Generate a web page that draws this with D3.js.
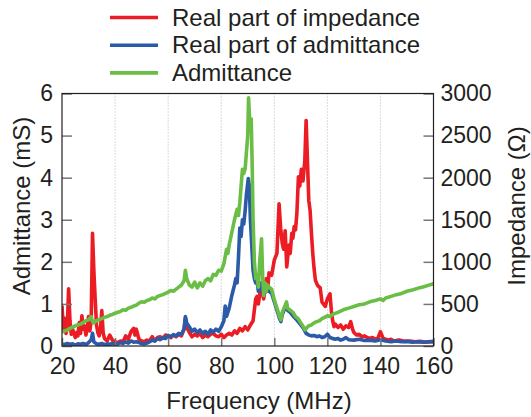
<!DOCTYPE html>
<html lang="en">
<head>
  <meta charset="UTF-8">
  <title>Impedance / Admittance</title>
  <script src="https://d3js.org/d3.v7.min.js"></script>
  <style>
    body { margin: 0; background: #fff; }
    text { font-family: "Liberation Sans", Arial, Helvetica, sans-serif; fill: #231f20; }
  </style>
</head>
<body>
  <div id="wrapper"></div>
  <script>
    // [frequency MHz, value]
    // real part of impedance (ohm) -> right axis
    const realImpedance = [
      [20, 480], [20.5, 200], [21, 330], [21.5, 150], [22, 250], [22.5, 680], [23, 300], [23.5, 140],
      [24, 200], [25, 100], [25.5, 160], [26, 120], [26.5, 280], [27, 150], [27.5, 360], [28, 200],
      [28.5, 240], [29, 130], [29.5, 200], [30, 350], [30.5, 180], [31, 300], [31.5, 1340], [32, 900],
      [32.5, 560], [33, 250], [33.5, 160], [34, 120], [34.5, 200], [35, 420], [35.5, 160], [36, 90],
      [37, 60], [38, 130], [39, 70], [40, 50], [41, 40], [42, 60], [43, 50], [44, 120], [45, 80],
      [46, 170], [47, 210], [47.5, 130], [48, 200], [49, 80], [50, 60], [51, 50], [52, 70], [53, 60],
      [54, 110], [55, 60], [56, 100], [57, 110], [58, 90], [59, 130], [60, 120], [61, 100], [62, 130],
      [63, 110], [64, 140], [65, 120], [66, 200], [66.5, 330], [67, 220], [68, 160], [69, 110],
      [70, 140], [71, 120], [72, 150], [73, 100], [74, 130], [75, 110], [76, 140], [77, 150], [78, 120],
      [79, 110], [80, 140], [81, 100], [82, 130], [83, 150], [84, 130], [85, 180], [86, 150], [87, 210],
      [88, 180], [89, 230], [90, 190], [91, 250], [92, 300], [93, 560], [93.5, 590], [94, 500],
      [95, 720], [96, 560], [97, 800], [97.5, 650], [98, 870], [99, 840], [100, 1020], [101, 1100],
      [101.8, 1690], [102.4, 1400], [103, 1220], [103.5, 1150], [104.1, 1370], [104.7, 940],
      [105.5, 1200], [106, 1100], [106.6, 1340], [107, 1280], [107.5, 1420], [108, 1380], [108.5, 1570],
      [109.1, 2010], [109.6, 1900], [110.2, 2100], [110.8, 1960], [111.5, 2200], [112, 2680],
      [112.5, 2200], [113, 1730], [113.5, 1610], [114, 1340], [114.5, 1100], [115, 920], [115.5, 780],
      [116.3, 720], [117.3, 690], [118, 520], [119.2, 470], [120, 560], [121, 620], [121.5, 420],
      [122, 300], [122.5, 230], [123, 260], [124, 220], [125, 250], [126, 200], [127, 240], [128, 220],
      [128.8, 290], [129.5, 200], [130, 160], [131, 130], [132, 140], [133, 110], [134, 120], [135, 100],
      [136, 90], [137, 100], [138, 80], [139, 90], [140, 170], [141, 90], [142, 80], [143, 70], [144, 80],
      [145, 60], [147, 70], [149, 55], [151, 60], [153, 50], [155, 55], [157, 45], [160, 50]
    ]

    // real part of admittance (mS) -> left axis
    const realAdmittance = [
      [20, 0.05], [21, 0.03], [22, 0.06], [23, 0.04], [24, 0.05], [25, 0.02], [26, 0.05], [27, 0.04],
      [28, 0.06], [29, 0.03], [30, 0.08], [31, 0.15], [31.5, 0.30], [32, 0.10], [33, 0.05], [34, 0.04],
      [35, 0.06], [36, 0.03], [37, 0.05], [38, 0.04], [39, 0.06], [40, 0.03], [41, 0.05], [42, 0.08],
      [43, 0.06], [44, 0.10], [45, 0.07], [46, 0.12], [47, 0.09], [48, 0.10], [49, 0.08], [50, 0.06],
      [51, 0.05], [52, 0.07], [53, 0.10], [54, 0.14], [55, 0.12], [56, 0.18], [57, 0.15], [58, 0.20],
      [59, 0.18], [60, 0.25], [61, 0.22], [62, 0.27], [63, 0.24], [64, 0.30], [65, 0.28], [66, 0.40],
      [66.5, 0.70], [67, 0.55], [68, 0.45], [69, 0.35], [70, 0.40], [71, 0.32], [72, 0.38], [73, 0.30],
      [74, 0.35], [75, 0.28], [76, 0.38], [77, 0.33], [78, 0.40], [79, 0.35], [80, 0.45], [81, 0.60],
      [81.5, 0.95], [82, 0.70], [83, 0.90], [84, 1.20], [85, 1.45], [85.5, 1.60], [86, 1.50],
      [86.5, 2.10], [87, 2.80], [87.5, 2.60], [88, 3.00], [88.5, 2.90], [89, 3.20], [89.5, 3.60],
      [90.2, 3.98], [90.6, 3.80], [91, 3.00], [91.5, 2.40], [92, 1.80], [92.5, 1.60], [93, 1.50],
      [93.5, 1.55], [94, 1.30], [95, 1.50], [96, 1.20], [97, 1.35], [98, 1.30], [99, 1.25], [100, 1.05],
      [101, 0.85], [102, 0.65], [102.5, 0.58], [103, 0.75], [104, 0.90], [104.6, 0.98], [105, 0.85],
      [106, 0.80], [107, 0.72], [108, 0.65], [109, 0.58], [110, 0.50], [111, 0.42], [112, 0.30],
      [113, 0.26], [114, 0.24], [115, 0.25], [116, 0.22], [117, 0.24], [118, 0.20], [119, 0.22],
      [120, 0.28], [121, 0.20], [122, 0.18], [123, 0.16], [124, 0.18], [125, 0.14], [126, 0.16],
      [127, 0.20], [128, 0.15], [130, 0.14], [132, 0.16], [134, 0.13], [136, 0.14], [138, 0.12],
      [140, 0.15], [142, 0.12], [144, 0.10], [146, 0.12], [148, 0.10], [150, 0.11], [152, 0.09],
      [154, 0.10], [156, 0.09], [158, 0.10], [160, 0.11]
    ]

    // admittance magnitude (mS) -> left axis
    const admittance = [
      [20, 0.33], [21, 0.36], [22, 0.38], [23, 0.42], [24, 0.45], [25, 0.48], [26, 0.50], [27, 0.52],
      [28, 0.56], [29, 0.60], [30, 0.62], [31, 0.70], [31.5, 0.58], [32, 0.55], [33, 0.60], [34, 0.63],
      [35, 0.65], [36, 0.68], [37, 0.70], [38, 0.73], [39, 0.75], [40, 0.78], [41, 0.80], [42, 0.82],
      [43, 0.86], [44, 0.85], [45, 0.90], [46, 0.92], [47, 0.95], [48, 0.97], [49, 1.02], [50, 1.05],
      [51, 1.04], [52, 1.08], [53, 1.10], [54, 1.14], [55, 1.12], [56, 1.18], [57, 1.20], [58, 1.22],
      [59, 1.25], [60, 1.28], [61, 1.32], [62, 1.30], [63, 1.35], [64, 1.40], [65, 1.45], [66, 1.55],
      [66.5, 1.80], [67, 1.60], [68, 1.45], [69, 1.40], [70, 1.52], [71, 1.38], [72, 1.50], [73, 1.42],
      [74, 1.55], [75, 1.60], [76, 1.55], [77, 1.70], [78, 1.68], [79, 1.80], [80, 1.78], [81, 1.95],
      [82, 2.30], [82.5, 2.20], [83, 2.40], [84, 2.70], [85, 3.00], [86, 3.25], [86.5, 3.10], [87, 3.40],
      [88, 4.20], [88.5, 4.10], [89, 4.20], [89.5, 4.60], [90, 5.00], [90.3, 5.90], [90.7, 5.40],
      [91, 5.10], [91.3, 5.40], [91.7, 4.20], [92, 3.00], [92.5, 2.00], [93, 1.60], [93.5, 1.70],
      [94, 1.40], [94.5, 2.00], [95.2, 2.55], [95.6, 1.70], [96, 1.20], [96.5, 1.50], [97, 1.30],
      [97.5, 1.45], [98, 1.40], [99, 1.35], [100, 1.10], [101, 0.90], [102, 0.70], [102.5, 0.62],
      [103, 0.80], [104, 0.95], [104.6, 1.05], [105, 0.90], [106, 0.85], [107, 0.80], [108, 0.70],
      [109, 0.65], [110, 0.55], [111, 0.45], [111.6, 0.38], [112, 0.42], [113, 0.48], [114, 0.50],
      [115, 0.55], [116, 0.58], [117, 0.60], [118, 0.65], [119, 0.68], [120, 0.72], [121, 0.70],
      [122, 0.75], [124, 0.80], [126, 0.86], [128, 0.90], [130, 0.94], [132, 0.98], [134, 1.00],
      [136, 1.05], [138, 1.08], [140, 1.12], [141, 1.08], [142, 1.14], [144, 1.18], [146, 1.22],
      [148, 1.25], [150, 1.30], [152, 1.33], [154, 1.37], [156, 1.40], [158, 1.44], [160, 1.48]
    ]

    const xTicks = [20, 40, 60, 80, 100, 120, 140, 160]
    const leftTicks = [0, 1, 2, 3, 4, 5, 6]
    const rightTicks = [0, 500, 1000, 1500, 2000, 2500, 3000]

    const legendItems = [
      { label: 'Real part of impedance', color: '#ec1c24' },
      { label: 'Real part of admittance', color: '#2b5ba8' },
      { label: 'Admittance', color: '#6abd45' },
    ]

    let dimensions = {
      width: 531,
      height: 417,
      margin: { top: 93.5, right: 97.5, bottom: 71, left: 62 },
    }
    dimensions.boundedWidth = dimensions.width - dimensions.margin.left - dimensions.margin.right
    dimensions.boundedHeight = dimensions.height - dimensions.margin.top - dimensions.margin.bottom

    const wrapper = d3.select('#wrapper')
      .append('svg')
        .attr('width', dimensions.width)
        .attr('height', dimensions.height)

    const bounds = wrapper.append('g')
      .attr('transform', `translate(${dimensions.margin.left}, ${dimensions.margin.top})`)

    const xScale = d3.scaleLinear().domain([20, 160]).range([0, dimensions.boundedWidth])
    const yLeft = d3.scaleLinear().domain([0, 6]).range([dimensions.boundedHeight, 0])
    const yRight = d3.scaleLinear().domain([0, 3000]).range([dimensions.boundedHeight, 0])

    // dotted grid
    bounds.append('g')
      .selectAll('line')
      .data(xTicks.slice(1, -1))
      .join('line')
        .attr('x1', d => xScale(d))
        .attr('x2', d => xScale(d))
        .attr('y1', 0)
        .attr('y2', dimensions.boundedHeight)
        .attr('stroke', '#b5b5b5')
        .attr('stroke-width', 1)
        .attr('stroke-dasharray', '1,2')

    // lines
    bounds.append('clipPath').attr('id', 'clip')
      .append('rect').attr('width', dimensions.boundedWidth).attr('height', dimensions.boundedHeight)

    const lineLeft = d3.line().x(d => xScale(d[0])).y(d => yLeft(d[1]))
    const lineRight = d3.line().x(d => xScale(d[0])).y(d => yRight(d[1]))

    const series = [
      { data: realImpedance, gen: lineRight, color: legendItems[0].color },
      { data: realAdmittance, gen: lineLeft, color: legendItems[1].color },
      { data: admittance, gen: lineLeft, color: legendItems[2].color },
    ]
    bounds.append('g').attr('clip-path', 'url(#clip)')
      .selectAll('path')
      .data(series)
      .join('path')
        .attr('d', d => d.gen(d.data))
        .attr('fill', 'none')
        .attr('stroke', d => d.color)
        .attr('stroke-width', 3.6)
        .attr('stroke-linejoin', 'round')

    // axes (ticks inside, gray)
    const fmt = d3.format('d')
    const xAxis = bounds.append('g')
      .attr('transform', `translate(0, ${dimensions.boundedHeight})`)
      .call(d3.axisBottom(xScale).tickValues(xTicks).tickFormat(fmt).tickSizeInner(-8).tickSizeOuter(0).tickPadding(12))
    const yAxisL = bounds.append('g')
      .call(d3.axisLeft(yLeft).tickValues(leftTicks).tickFormat(fmt).tickSizeInner(-10).tickSizeOuter(0).tickPadding(9))
    const yAxisR = bounds.append('g')
      .attr('transform', `translate(${dimensions.boundedWidth}, 0)`)
      .call(d3.axisRight(yRight).tickValues(rightTicks).tickFormat(fmt).tickSizeInner(-10).tickSizeOuter(0).tickPadding(7))

    ;[xAxis, yAxisL, yAxisR].forEach(ax => {
      ax.select('.domain').remove()
      ax.selectAll('.tick line').attr('stroke', '#777').attr('stroke-width', 1.5)
      ax.selectAll('.tick text')
        .attr('font-size', 23)
        .attr('font-family', '"Liberation Sans", Arial, sans-serif')
        .attr('fill', '#231f20')
    })

    // frame
    bounds.append('rect')
      .attr('width', dimensions.boundedWidth)
      .attr('height', dimensions.boundedHeight)
      .attr('fill', 'none')
      .attr('stroke', '#231f20')
      .attr('stroke-width', 1.2)

    // axis titles
    wrapper.append('text')
      .attr('x', 259)
      .attr('y', 409)
      .attr('text-anchor', 'middle')
      .attr('font-size', 24)
      .text('Frequency (MHz)')

    wrapper.append('text')
      .attr('transform', 'translate(30, 206) rotate(-90)')
      .attr('text-anchor', 'middle')
      .attr('font-size', 24)
      .text('Admittance (mS)')

    wrapper.append('text')
      .attr('transform', 'translate(525, 206) rotate(-90)')
      .attr('text-anchor', 'middle')
      .attr('font-size', 24)
      .text('Impedance (Ω)')

    // legend
    const legend = wrapper.append('g')
    const legendRows = legend.selectAll('g')
      .data(legendItems)
      .join('g')
        .attr('transform', (d, i) => `translate(110, ${17.5 + i * 27.7})`)
    legendRows.append('line')
      .attr('x1', 0).attr('x2', 48)
      .attr('stroke', d => d.color)
      .attr('stroke-width', 3.6)
    legendRows.append('text')
      .attr('x', 62)
      .attr('y', 8)
      .attr('font-size', 24)
      .text(d => d.label)
  </script>
</body>
</html>
